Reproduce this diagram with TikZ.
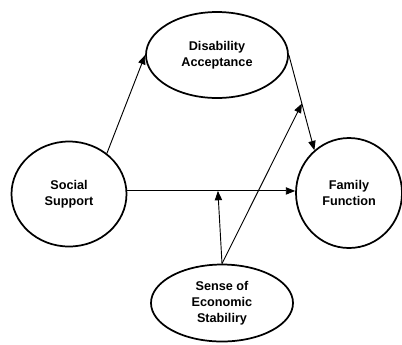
\documentclass[tikz,border=0pt]{standalone}
\usepackage{fontspec}
\setmainfont{Liberation Sans}
\usetikzlibrary{arrows.meta,shapes.geometric,calc}
\begin{document}
\begin{tikzpicture}[x=0.75pt,y=-0.75pt,
  var/.style={draw, ellipse, line width=1.3pt, inner sep=0pt, align=center,
    font=\fontsize{9.5}{12}\selectfont\bfseries},
  conn/.style={line width=0.7pt, -{Triangle[length=7pt,width=5.5pt]}}]
\useasboundingbox (0,0) rectangle (402,344);
\node[var, minimum width=106.5pt, minimum height=64.5pt] (da) at (217,55) {Disability\\Acceptance};
\node[var, minimum width=86.25pt, minimum height=78.75pt] (ss) at (69,194) {Social\\Support};
\node[var, minimum width=79.5pt, minimum height=82.5pt] (ff) at (349,193) {Family\\Function};
\node[var, minimum width=106.5pt, minimum height=57.75pt] (se) at (222,303) {Sense of\\Economic\\Stabiliry};
\coordinate (h1) at (ss.3);
\coordinate (h2) at (h1 -| ff.west);
\coordinate (m1) at ($(h1)!0.54!(h2)$);
\coordinate (d1) at (da.east);
\coordinate (d2) at (ff.129);
\coordinate (m2) at ($(d1)!0.51!(d2)$);
\draw[conn] (ss.47) -- (da.west);
\draw[conn] (d1) -- (d2);
\draw[conn] (h1) -- (h2);
\draw[conn] (se.north) -- (m1);
\draw[conn] (se.north) -- (m2);
\end{tikzpicture}
\end{document}
